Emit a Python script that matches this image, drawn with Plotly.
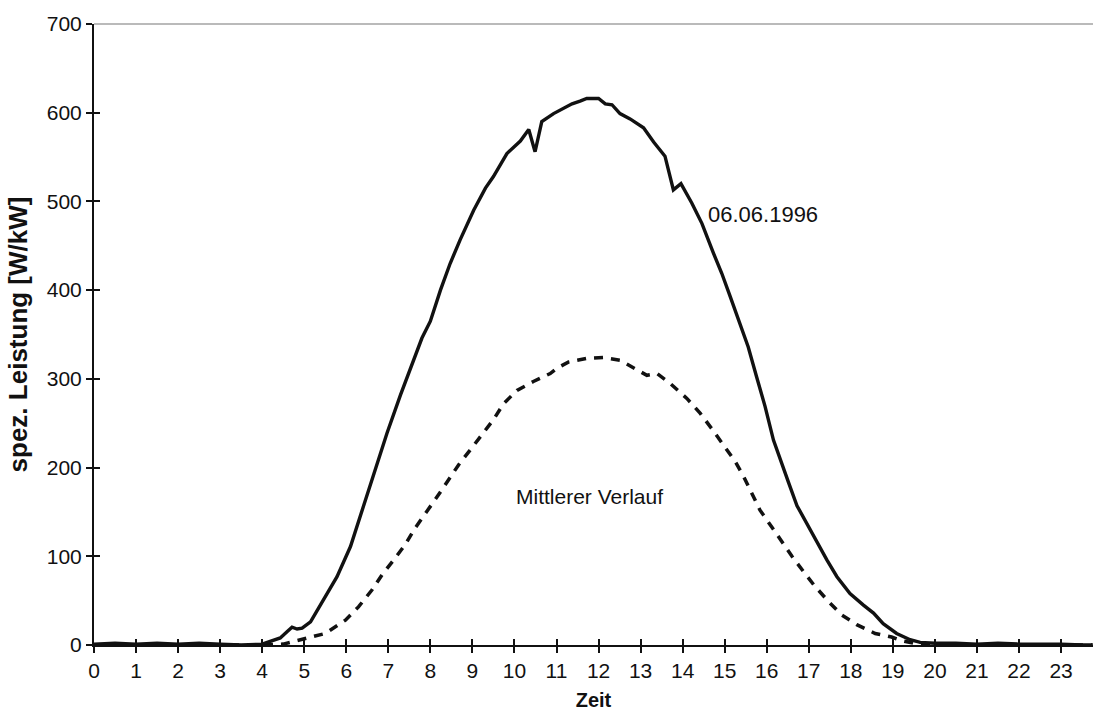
import plotly.graph_objects as go

# --- data ---
hours_1996 = [0, 0.5, 1, 1.5, 2, 2.5, 3, 3.5, 4, 4.27, 4.43, 4.59, 4.71, 4.83, 4.95,
              5.15, 5.46, 5.78, 6.10, 6.33, 6.65, 6.97, 7.29, 7.52, 7.80, 8.00, 8.24,
              8.47, 8.71, 9.03, 9.31, 9.50, 9.82, 10.14, 10.34, 10.49, 10.65, 10.93,
              11.17, 11.37, 11.56, 11.72, 12.0, 12.16, 12.32, 12.51, 12.75, 13.07,
              13.31, 13.58, 13.78, 13.96, 14.22, 14.46, 14.73, 14.93, 15.13, 15.33,
              15.56, 15.76, 15.96, 16.16, 16.36, 16.52, 16.72, 16.95, 17.19, 17.43,
              17.67, 17.98, 18.30, 18.54, 18.77, 19.09, 19.41, 19.65, 20.0, 20.5, 21,
              21.5, 22, 22.5, 23, 23.5, 23.75]
power_1996 = [1, 2, 1, 2, 1, 2, 1, 0, 1, 6, 8, 15, 20, 18, 19,
              26, 51, 77, 111, 145, 190, 239, 282, 310, 346, 365, 400,
              430, 457, 490, 515, 528, 554, 568, 581, 556, 590, 599,
              605, 610, 613, 616, 616, 610, 609, 599, 593, 583,
              567, 551, 513, 520, 498, 475, 442, 419, 393, 366,
              336, 302, 269, 231, 203, 183, 157, 137, 115, 96,
              77, 58, 45, 36, 24, 13, 6, 3, 2, 2, 1,
              2, 1, 1, 1, 0, 0]

hours_mean = [0, 1, 2, 3, 4, 4.5, 5.03, 5.50, 5.98, 6.29, 6.61, 6.85, 7.13, 7.40, 7.64,
              7.92, 8.16, 8.43, 8.67, 8.95, 9.23, 9.50, 9.74, 10.06, 10.45, 10.85,
              11.01, 11.29, 11.72, 12.12, 12.51, 12.91, 13.15, 13.39, 13.70, 14.10,
              14.42, 14.69, 14.97, 15.25, 15.45, 15.65, 15.84, 16.12, 16.36, 16.60,
              16.87, 17.15, 17.47, 17.78, 18.14, 18.58, 18.97, 19.2, 19.5, 20, 21, 22,
              23, 23.75]
power_mean = [0, 0, 0, 0, 0, 1, 7, 13, 28, 43, 62, 79, 96, 113, 132,
              150, 167, 186, 203, 220, 237, 254, 272, 287, 297, 306,
              312, 319, 323, 324, 321, 310, 304, 306, 295, 278,
              261, 244, 225, 207, 190, 171, 152, 133, 116, 100,
              83, 66, 49, 34, 23, 13, 9, 5, 2, 0, 0, 0,
              0, 0]

x_ticks = list(range(0, 24))
y_ticks = list(range(0, 701, 100))

FONT = "Liberation Sans, Arial, sans-serif"
INK = "#111111"

fig = go.Figure()
fig.add_trace(go.Scatter(x=hours_mean, y=power_mean, mode="lines",
                         line=dict(color=INK, width=3.5, dash="9px,8px"),
                         name="Mittlerer Verlauf", showlegend=False))
fig.add_trace(go.Scatter(x=hours_1996, y=power_1996, mode="lines",
                         line=dict(color=INK, width=3.4),
                         name="06.06.1996", showlegend=False))
# helper trace to carry the inner half of the crossing tick marks
fig.add_trace(go.Scatter(x=[None], y=[None], xaxis="x2", yaxis="y2",
                         showlegend=False, hoverinfo="skip"))

x_range = [0, 23.76]
y_range = [0, 700]

fig.update_layout(
    width=1093, height=724,
    margin=dict(l=94, r=0, t=24, b=79),
    paper_bgcolor="white", plot_bgcolor="white",
    font=dict(family=FONT, size=21, color=INK),
    xaxis=dict(range=x_range, tickvals=x_ticks, ticktext=[str(t) for t in x_ticks],
               ticks="outside", ticklen=6, tickwidth=1.5, tickcolor=INK,
               showline=True, linecolor=INK, linewidth=2, showgrid=False,
               zeroline=False, tickfont=dict(size=21),
               title=dict(text="<b>Zeit</b>", font=dict(size=20), standoff=12)),
    yaxis=dict(range=y_range, tickvals=y_ticks,
               ticks="outside", ticklen=6, tickwidth=1.5, tickcolor=INK,
               showline=True, linecolor=INK, linewidth=2, showgrid=False,
               zeroline=False, tickfont=dict(size=21),
               title=dict(text="<b>spez. Leistung [W/kW]</b>", font=dict(size=26), standoff=12)),
    xaxis2=dict(range=x_range, tickvals=x_ticks, overlaying="x", anchor="y2", side="bottom",
                ticks="inside", ticklen=6, tickwidth=1.5, tickcolor=INK,
                showticklabels=False, showline=False, showgrid=False, zeroline=False),
    yaxis2=dict(range=y_range, tickvals=y_ticks, overlaying="y", anchor="x2", side="left",
                ticks="inside", ticklen=6, tickwidth=1.5, tickcolor=INK,
                showticklabels=False, showline=False, showgrid=False, zeroline=False),
    shapes=[dict(type="line", xref="paper", yref="paper", x0=0, x1=1, y0=1, y1=1,
                 line=dict(color="#777777", width=1.2))],
    annotations=[
        dict(x=15.91, y=485, text="06.06.1996", showarrow=False,
             font=dict(size=22, family=FONT, color=INK)),
        dict(x=11.78, y=167, text="Mittlerer Verlauf", showarrow=False,
             font=dict(size=21, family=FONT, color=INK)),
    ],
)

fig.write_html("out.html")
